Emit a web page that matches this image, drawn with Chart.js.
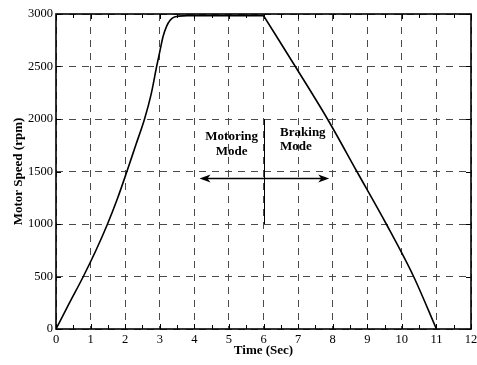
<!DOCTYPE html>
<html>
<head>
<meta charset="utf-8">
<script src="https://cdn.jsdelivr.net/npm/chart.js@4.4.1/dist/chart.umd.min.js"></script>
<style>
  html, body { margin: 0; padding: 0; background: #fff; }
  #wrap { width: 477px; height: 365px; }
</style>
</head>
<body>
<div id="wrap"><canvas id="c" width="477" height="365"></canvas></div>
<script>
// Motor speed profile: acceleration (motoring) up to steady run
const runTime  = [0, 0.4, 0.79, 1.15, 1.49, 1.78, 2.05, 2.31, 2.56, 2.75, 2.91, 3.0, 3.1, 3.2, 3.3, 3.4, 3.55, 3.8, 5.0, 6.0];
const runSpeed = [0, 255, 500, 745, 1000, 1245, 1500, 1755, 2000, 2235, 2500, 2640, 2790, 2885, 2940, 2968, 2980, 2985, 2985, 2985];
// Regenerative braking from full speed to standstill
const brakeTime  = [6.0, 6.92, 7.85, 8.7, 9.55, 10.34, 11.0];
const brakeSpeed = [2985, 2500, 2000, 1500, 1000, 500, 0];

const xTicks = [0, 1, 2, 3, 4, 5, 6, 7, 8, 9, 10, 11, 12];
const yTicks = [0, 500, 1000, 1500, 2000, 2500, 3000];

// Mode annotation: divider, double arrow and the two labels (data coordinates)
const dividerTime = 6;
const dividerSpan = [1000, 2000];
const arrowSpan = [4.15, 7.9];
const arrowSpeed = 1440;
const motoringLabel = { lines: ['Motoring', 'Mode'], x: 5.08, y: [1831, 1689] };
const brakingLabel  = { lines: ['Braking', 'Mode'],  x: 6.48, y: [1873, 1736] };

const SERIF = '"Liberation Serif", "Times New Roman", Times, serif';

const frameAndNotes = {
  id: 'frameAndNotes',
  afterDatasetsDraw(chart) {
    const { ctx, chartArea: a, scales: { x, y } } = chart;
    ctx.save();

    // inward tick marks (majors on both axes, half-unit minors on time axis)
    ctx.strokeStyle = '#000';
    ctx.lineWidth = 1;
    ctx.beginPath();
    for (let t = 0; t <= 12; t += 0.5) {
      const px = Math.round(x.getPixelForValue(t)) + 0.5;
      const len = Number.isInteger(t) ? 5 : 4;
      ctx.moveTo(px, a.bottom); ctx.lineTo(px, a.bottom - len);
      ctx.moveTo(px, a.top); ctx.lineTo(px, a.top + len);
    }
    yTicks.forEach(v => {
      const py = Math.round(y.getPixelForValue(v)) + 0.5;
      ctx.moveTo(a.left, py); ctx.lineTo(a.left + 5, py);
      ctx.moveTo(a.right, py); ctx.lineTo(a.right - 5, py);
    });
    ctx.stroke();

    // plot frame
    ctx.lineWidth = 1.6;
    ctx.strokeRect(a.left, a.top, a.right - a.left, a.bottom - a.top);

    // divider between the two modes
    ctx.lineWidth = 1;
    const dx = Math.round(x.getPixelForValue(dividerTime)) + 0.5;
    ctx.beginPath();
    ctx.moveTo(dx, y.getPixelForValue(dividerSpan[1]));
    ctx.lineTo(dx, y.getPixelForValue(dividerSpan[0]));
    ctx.stroke();

    // double-headed arrow
    const ay = Math.round(y.getPixelForValue(arrowSpeed)) + 0.5;
    const x0 = x.getPixelForValue(arrowSpan[0]);
    const x1 = x.getPixelForValue(arrowSpan[1]);
    ctx.lineWidth = 1.3;
    ctx.beginPath();
    ctx.moveTo(x0 + 4, ay); ctx.lineTo(x1 - 4, ay);
    ctx.stroke();
    ctx.fillStyle = '#000';
    const head = (tip, dir) => {
      ctx.beginPath();
      ctx.moveTo(tip, ay);
      ctx.lineTo(tip + dir * 11, ay - 4);
      ctx.lineTo(tip + dir * 8, ay);
      ctx.lineTo(tip + dir * 11, ay + 4);
      ctx.closePath();
      ctx.fill();
    };
    head(x0, 1);
    head(x1, -1);

    // mode labels
    ctx.font = 'bold 13px ' + SERIF;
    ctx.textBaseline = 'middle';
    ctx.textAlign = 'center';
    motoringLabel.lines.forEach((s, i) =>
      ctx.fillText(s, x.getPixelForValue(motoringLabel.x), y.getPixelForValue(motoringLabel.y[i])));
    ctx.textAlign = 'left';
    brakingLabel.lines.forEach((s, i) =>
      ctx.fillText(s, x.getPixelForValue(brakingLabel.x), y.getPixelForValue(brakingLabel.y[i])));

    ctx.restore();
  }
};

const gridStyle = { color: '#4a4a4a', lineWidth: 1, drawTicks: false };
const toPoints = (ts, vs) => ts.map((t, i) => ({ x: t, y: vs[i] }));

new Chart(document.getElementById('c'), {
  type: 'line',
  data: {
    datasets: [{
      data: toPoints(runTime, runSpeed),
      borderColor: '#000',
      borderWidth: 1.6,
      pointRadius: 0,
      fill: false,
      cubicInterpolationMode: 'monotone'
    }, {
      data: toPoints(brakeTime, brakeSpeed),
      borderColor: '#000',
      borderWidth: 1.6,
      pointRadius: 0,
      fill: false,
      cubicInterpolationMode: 'monotone'
    }]
  },
  options: {
    responsive: false,
    animation: false,
    events: [],
    layout: { padding: { left: 0, top: 14, right: 6, bottom: 0 } },
    plugins: { legend: { display: false }, tooltip: { enabled: false } },
    scales: {
      x: {
        type: 'linear',
        min: 0, max: 12,
        afterBuildTicks: s => { s.ticks = xTicks.map(v => ({ value: v })); },
        afterFit: s => { s.height = 36; s.paddingLeft = 0; s.paddingRight = 0; },
        grid: gridStyle,
        border: { display: false, dash: [7, 6] },
        ticks: { color: '#000', padding: 3, maxRotation: 0, autoSkip: false,
                 callback: v => String(v),
                 font: { family: SERIF, size: 12.5 } },
        title: { display: true, text: 'Time (Sec)', color: '#000',
                 padding: { top: 0, bottom: 6.5 },
                 font: { family: SERIF, size: 13, weight: 'bold' } }
      },
      y: {
        type: 'linear',
        min: 0, max: 3000,
        afterBuildTicks: s => { s.ticks = yTicks.map(v => ({ value: v })); },
        afterFit: s => { s.width = 56; s.paddingTop = 0; s.paddingBottom = 0; },
        grid: gridStyle,
        border: { display: false, dash: [7, 6] },
        ticks: { color: '#000', padding: 3, autoSkip: false,
                 callback: v => String(v),
                 font: { family: SERIF, size: 12.5 } },
        title: { display: true, text: 'Motor Speed (rpm)', color: '#000',
                 padding: { top: 10.5, bottom: 0 },
                 font: { family: SERIF, size: 13, weight: 'bold' } }
      }
    }
  },
  plugins: [frameAndNotes]
});
</script>
</body>
</html>
